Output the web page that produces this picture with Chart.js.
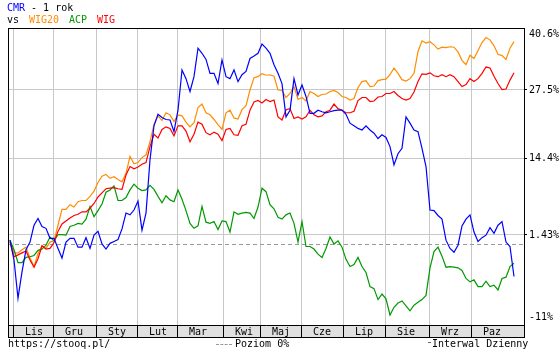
<script src="https://cdn.jsdelivr.net/npm/chart.js"></script>
<style>
  body { margin: 0; background: #fff; }
  #wrap { position: relative; width: 560px; height: 350px; }
  .t { position: absolute; font: 10px "DejaVu Sans Mono", monospace; line-height: 12px; color: #000; white-space: pre; }
</style>

<div id="wrap">
    <canvas id="cmpChart" width="560" height="350"></canvas>
    <div class="t" style="left:7px; top:2px"><span style="color:#0000ff">CMR</span> - 1 rok</div>
    <div class="t" style="left:7px; top:14px">vs</div>
    <div class="t" style="left:29px; top:14px; color:#ff8c00">WIG20</div>
    <div class="t" style="left:69px; top:14px; color:#009900">ACP</div>
    <div class="t" style="left:97px; top:14px; color:#ff0000">WIG</div>
    <div class="t" style="left:8px; top:338px">https://stooq.pl/</div>
    <div style="position:absolute; left:216px; top:344px; width:16px; border-top:1px dashed #999"></div>
    <div class="t" style="left:235px; top:338px">Poziom 0%</div>
    <div style="position:absolute; left:428px; top:342px; width:3px; border-top:1px solid #666"></div>
    <div class="t" style="left:432px; top:338px">Interwal Dzienny</div>
</div>

<script>
    // percent change since start, one reading every ~2 sessions
    const cmr = [0.6, -2.5, -8.2, -4.3, -0.9, 0.3, 3.0, 4.1, 2.8, 2.5,
        0.9, 0.9, -0.7, -2.2, 0.3, 0.9, 0.9, -0.5, -0.5, 1.0,
        -0.7, 1.4, 2.0, 0.0, -0.8, 0.1, 0.4, 0.7, 2.4, 5.0,
        4.7, 5.5, 7.0, 2.2, 5.0, 14.2, 20.5, 22.7, 22.1, 21.7,
        21.6, 19.4, 23.5, 31.6, 29.8, 27.2, 30.2, 36.2, 35.1, 33.8,
        30.9, 30.9, 28.8, 33.7, 30.2, 29.8, 31.6, 29.2, 30.6, 31.3,
        34.0, 34.5, 35.1, 37.1, 36.2, 35.1, 32.7, 30.9, 28.8, 22.2,
        23.5, 29.8, 26.5, 28.5, 26.2, 22.9, 22.9, 23.5, 23.2, 23.0,
        23.2, 23.4, 23.5, 23.5, 22.7, 21.0, 20.5, 20.0, 19.7, 20.5,
        19.7, 19.1, 18.1, 18.8, 18.3, 16.6, 13.3, 15.3, 16.3, 22.2,
        21.0, 19.7, 19.4, 16.3, 13.0, 5.5, 5.4, 4.6, 4.0, 0.6,
        -0.7, -1.3, -0.2, 2.9, 4.0, 4.7, 1.9, 0.4, 1.0, 1.4,
        2.6, 1.7, 3.0, 3.6, 0.3, -0.4, -5.0];

    const wig20 = [0.6, -1.4, -1.4, -0.9, -0.5, -2.2, -3.5, -1.5, -0.3, -0.7,
        0.3, 0.5, 3.0, 5.6, 5.6, 6.4, 6.0, 6.9, 7.1, 7.1,
        7.8, 8.7, 10.2, 11.3, 11.6, 10.9, 11.2, 10.7, 10.3, 11.8,
        14.8, 13.5, 13.7, 14.6, 15.1, 17.5, 20.8, 22.4, 21.5, 23.0,
        22.6, 21.3, 22.6, 22.4, 21.2, 20.3, 21.1, 24.0, 24.7, 23.0,
        22.6, 21.7, 20.7, 19.8, 23.0, 23.5, 22.0, 21.8, 23.6, 24.4,
        27.5, 30.0, 30.2, 30.8, 30.5, 30.6, 30.3, 27.5, 27.4, 26.0,
        26.8, 28.2, 25.6, 26.0, 25.3, 27.2, 26.8, 26.2, 26.6, 26.7,
        27.2, 27.4, 27.0, 26.2, 26.0, 25.5, 25.8, 28.0, 29.2, 29.4,
        28.2, 28.3, 29.4, 29.6, 29.7, 30.6, 32.0, 30.9, 29.6, 29.3,
        29.8, 30.9, 35.5, 37.8, 37.3, 37.6, 36.9, 36.0, 36.4, 36.3,
        36.5, 36.4, 35.4, 33.6, 32.7, 34.7, 34.0, 35.7, 37.4, 38.5,
        38.0, 36.7, 34.9, 34.6, 33.8, 36.2, 37.6];

    const acp = [0.6, -0.9, -2.9, -2.9, -2.1, -2.0, -1.8, -1.0, -0.8, -0.2,
        1.1, 0.5, 1.5, 1.5, 1.4, 2.8, 3.0, 3.3, 3.2, 4.0,
        6.1, 4.4, 5.4, 6.5, 8.5, 8.9, 9.6, 7.1, 7.1, 7.6,
        8.9, 9.9, 9.2, 8.8, 8.9, 9.7, 9.0, 7.8, 6.7, 7.9,
        7.2, 6.9, 8.9, 7.3, 5.4, 3.3, 2.5, 2.9, 6.1, 3.5,
        3.3, 3.6, 2.3, 3.7, 3.6, 1.9, 5.2, 4.8, 5.0, 5.1,
        5.0, 4.1, 6.0, 9.2, 8.6, 6.4, 5.7, 4.3, 4.0, 4.7,
        5.0, 3.3, 0.3, 3.6, -0.4, -0.4, -0.8, -1.6, -2.1, -0.7,
        1.1, 0.0, 0.5, -0.5, -2.4, -3.5, -3.2, -2.1, -3.5, -4.4,
        -6.5, -6.8, -8.4, -7.6, -8.3, -10.6, -9.5, -8.9, -8.6, -9.3,
        -10.0, -9.2, -8.8, -8.4, -7.8, -3.7, -1.2, -0.5, -1.9, -3.6,
        -3.5, -3.6, -3.7, -4.1, -5.3, -5.8, -5.5, -6.5, -6.5, -5.7,
        -6.5, -6.3, -7.0, -5.3, -5.1, -3.5, -3.0];

    const wig = [0.3, -2.0, -1.7, -1.4, -1.1, -2.5, -3.6, -2.3, -0.3, -0.8,
        -0.7, 0.2, 2.0, 3.2, 3.7, 4.2, 4.6, 4.8, 5.2, 5.2,
        5.8, 6.6, 7.7, 8.4, 9.1, 9.2, 9.3, 9.1, 9.0, 11.5,
        13.0, 12.6, 12.9, 13.4, 13.7, 16.6, 18.9, 18.2, 19.8, 20.3,
        20.0, 18.6, 20.5, 20.5, 19.5, 17.5, 18.9, 21.2, 20.8, 19.2,
        18.8, 19.3, 18.9, 17.7, 19.8, 20.0, 18.8, 18.7, 20.5, 20.8,
        23.5, 25.1, 25.4, 24.9, 25.6, 25.2, 25.5, 22.2, 21.6, 23.6,
        23.8, 21.9, 22.2, 21.8, 22.2, 23.5, 22.6, 22.2, 22.4, 23.2,
        23.5, 24.7, 23.8, 23.5, 23.0, 23.0, 23.3, 25.4, 26.0, 26.0,
        25.2, 25.3, 26.1, 26.2, 26.8, 26.8, 27.2, 26.4, 25.8, 25.5,
        25.8, 27.1, 29.2, 30.8, 30.7, 31.0, 30.4, 30.2, 30.6, 30.2,
        30.6, 30.2, 29.2, 28.2, 28.6, 29.8, 29.2, 29.8, 30.9, 32.2,
        32.0, 30.3, 28.8, 27.6, 27.7, 29.5, 31.0];

    // month starts, in reading index units
    const months = ["Lis", "Gru", "Sty", "Lut", "Mar", "Kwi", "Maj", "Cze", "Lip", "Sie", "Wrz", "Paz"];
    const monthStarts = [0.75, 10.75, 21.5, 31.75, 41.75, 53.25, 62.5, 72.75, 83.25, 93.75, 104.75, 115.25];

    const yTicks = [-11, 1.43, 14.4, 27.5, 40.6];
    const yLabels = ["-11%", "1.43%", "14.4%", "27.5%", ["", "40.6%"]];
    const yMin = -12.0, yMax = 40.6;

    const font = { family: "DejaVu Sans Mono", size: 10 };
    const toLevel = p => 100 + p;
    const idx = cmr.map((_, i) => i);

    function line(label, values, color) {
        return {
            label: label,
            data: values.map(toLevel),
            borderColor: color,
            borderWidth: 1.2,
            pointRadius: 0,
            tension: 0,
            fill: false
        };
    }

    const framePlugin = {
        id: "frame",
        beforeDraw(chart) {
            const { ctx, chartArea: a } = chart;
            ctx.save();
            ctx.fillStyle = "#e0e0e0";
            ctx.fillRect(a.left, a.bottom, a.right - a.left, 12);
            ctx.restore();
        },
        beforeDatasetsDraw(chart) {
            const { ctx, chartArea: a, scales } = chart;
            const y0 = Math.round(scales.y.getPixelForValue(toLevel(0))) + 0.5;
            ctx.save();
            ctx.lineWidth = 1;
            ctx.strokeStyle = "#999";
            ctx.setLineDash([4, 3]);
            ctx.beginPath();
            ctx.moveTo(a.left, y0);
            ctx.lineTo(a.right, y0);
            ctx.stroke();
            ctx.setLineDash([]);
            ctx.strokeStyle = "#000";
            ctx.strokeRect(a.left + 0.5, a.top + 0.5, a.right - a.left, a.bottom + 12 - a.top);
            ctx.beginPath();
            ctx.moveTo(a.left, a.bottom + 0.5);
            ctx.lineTo(a.right + 1, a.bottom + 0.5);
            ctx.stroke();
            ctx.restore();
        }
    };

    new Chart(document.getElementById("cmpChart"), {
        type: "line",
        data: {
            labels: idx,
            datasets: [
                line("CMR", cmr, "#0000ff"),
                line("WIG", wig, "#ff0000"),
                line("ACP", acp, "#009900"),
                line("WIG20", wig20, "#ff8c00")
            ]
        },
        options: {
            responsive: false,
            animation: false,
            devicePixelRatio: 1,
            layout: { padding: { left: 8, top: 28, right: 0, bottom: 13 } },
            plugins: {
                legend: { display: false },
                tooltip: { enabled: false },
                title: { display: false }
            },
            scales: {
                x: {
                    type: "linear",
                    bounds: "data",
                    min: -0.5,
                    max: 128.5,
                    afterBuildTicks: s => { s.ticks = monthStarts.map(v => ({ value: v })); },
                    afterFit: s => { s.height = 12; },
                    grid: { color: "#c8c8c8", tickColor: "#000", tickLength: 12 },
                    border: { display: false },
                    ticks: {
                        autoSkip: false,
                        maxRotation: 0,
                        padding: -11,
                        labelOffset: 21,
                        color: "#000",
                        font: font,
                        callback: (v, i) => months[i]
                    }
                },
                y: {
                    type: "logarithmic",
                    position: "right",
                    bounds: "data",
                    min: toLevel(yMin),
                    max: toLevel(yMax),
                    afterBuildTicks: s => { s.ticks = yTicks.map(v => ({ value: toLevel(v) })); },
                    afterFit: s => { s.width = 36; },
                    grid: {
                        color: c => (c.index > 0 && c.index < yTicks.length - 1) ? "#c8c8c8" : "rgba(0,0,0,0)",
                        tickColor: c => (c.index > 0 && c.index < yTicks.length - 1) ? "#000" : "rgba(0,0,0,0)",
                        tickLength: 3
                    },
                    border: { display: false },
                    ticks: {
                        padding: 2,
                        color: "#000",
                        font: font,
                        callback: (v, i) => yLabels[i]
                    }
                }
            }
        },
        plugins: [framePlugin]
    });
</script>
